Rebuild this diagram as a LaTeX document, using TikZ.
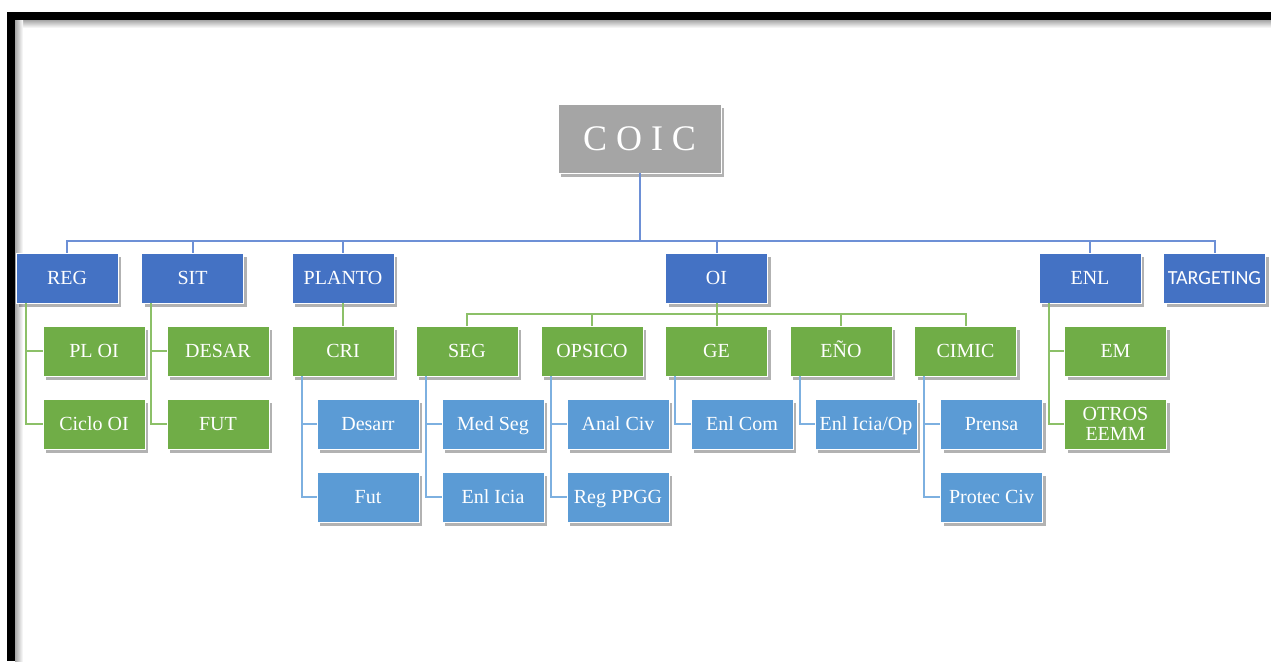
\documentclass[tikz,border=0pt]{standalone}
\usepackage{fontspec}
\setmainfont{Liberation Serif}
\newfontfamily\carlitofont{Carlito}
\usetikzlibrary{shadows}
\definecolor{dblue}{HTML}{4472C4}
\definecolor{lblue}{HTML}{5B9BD5}
\definecolor{mgreen}{HTML}{70AD47}
\definecolor{mgray}{HTML}{A5A5A5}
\definecolor{bl}{HTML}{6D90D6}
\definecolor{gl}{HTML}{8CC068}
\definecolor{ll}{HTML}{7DB0E0}
\tikzset{
  box/.style={rectangle, minimum width=102pt, minimum height=50pt, inner sep=0pt,
    draw=white, line width=0.8pt, text=white, font=\fontsize{20}{20}\selectfont,
    text height=13.2pt, text depth=0pt,
    drop shadow={shadow xshift=3pt, shadow yshift=-4pt, opacity=0.3, fill=black}},
  l1/.style={box, fill=dblue},
  l2/.style={box, fill=mgreen},
  l3/.style={box, fill=lblue},
  bline/.style={draw=bl, line width=2pt},
  gline/.style={draw=gl, line width=2pt},
  lline/.style={draw=ll, line width=2pt},
}
\begin{document}
\begin{tikzpicture}[x=1pt,y=-1pt]
\useasboundingbox (0,0) rectangle (1271,661);
% frame
\shade[top color=black!35, bottom color=white] (15,20) rectangle (1271,28);
\shade[left color=black!35, right color=white] (15,20) rectangle (23,661);
\fill[black] (7,12) rectangle (1271,20);
\fill[black] (7,12) rectangle (15,661);

% root
\node[box, fill=mgray, minimum width=163pt, minimum height=69pt, text height=24pt, text depth=0pt, font=\fontsize{36}{36}\selectfont] (COIC) at (639.5,138.5) {C O I C};

% level 1
\node[l1] (REG) at (67,278) {REG};
\node[l1] (SIT) at (192.5,278) {SIT};
\node[l1] (PLANTO) at (343,278) {PLANTO};
\node[l1] (OI) at (716.5,278) {OI};
\node[l1] (ENL) at (1090,278) {ENL};
\node[l1, font=\carlitofont\fontsize{20}{20}\selectfont] (TGT) at (1214.5,278) {TARGETING};

% level 2
\node[l2] (PLOI) at (94,351) {PL OI};
\node[l2] (DESAR) at (218,351) {DESAR};
\node[l2] (CRI) at (343,351) {CRI};
\node[l2] (SEG) at (467,351) {SEG};
\node[l2] (OPSICO) at (592,351) {OPSICO};
\node[l2] (GE) at (716.5,351) {GE};
\node[l2] (ENO) at (841,351) {EÑO};
\node[l2] (CIMIC) at (965.5,351) {CIMIC};
\node[l2] (EM) at (1115.5,351) {EM};

% level 3
\node[l2] (CICLO) at (94,424) {Ciclo OI};
\node[l2] (FUT) at (218,424) {FUT};
\node[l3] (DESARR) at (368,424) {Desarr};
\node[l3] (MEDSEG) at (493,424) {Med Seg};
\node[l3] (ANAL) at (618,424) {Anal Civ};
\node[l3] (ENLCOM) at (742,424) {Enl Com};
\node[l3] (ENLOP) at (866,424) {Enl Icia/Op};
\node[l3] (PRENSA) at (991.5,424) {Prensa};
\node[l2, align=center, text height=, text depth=, font=\fontsize{20}{20}\selectfont] (OTROS) at (1115.5,424) {OTROS\\EEMM};

% level 4
\node[l3] (FUT2) at (368,497) {Fut};
\node[l3] (ENLICIA) at (493,497) {Enl Icia};
\node[l3] (REGPP) at (618,497) {Reg PPGG};
\node[l3] (PROTEC) at (991.5,497) {Protec Civ};

% top bus
\coordinate (bus) at (639.5,241);
\draw[bline] (COIC.south) -- (bus);
\foreach \n in {REG,SIT,PLANTO,OI,ENL,TGT} \draw[bline] (bus) -| (\n.north);

% OI bus
\coordinate (oibus) at (716.5,314);
\draw[gline] (OI.south) -- (oibus);
\foreach \n in {SEG,OPSICO,GE,ENO,CIMIC} \draw[gline] (oibus) -| (\n.north);

% PLANTO -> CRI
\draw[gline] (PLANTO.south) -- (CRI.north);

% side connectors
\draw[gline] ([xshift=10pt]REG.south west) |- (PLOI.west);
\draw[gline] ([xshift=10pt]REG.south west) |- (CICLO.west);
\draw[gline] ([xshift=10pt]SIT.south west) |- (DESAR.west);
\draw[gline] ([xshift=10pt]SIT.south west) |- (FUT.west);
\draw[gline] ([xshift=10pt]ENL.south west) |- (EM.west);
\draw[gline] ([xshift=10pt]ENL.south west) |- (OTROS.west);
\draw[lline] ([xshift=10pt]CRI.south west) |- (DESARR.west);
\draw[lline] ([xshift=10pt]CRI.south west) |- (FUT2.west);
\draw[lline] ([xshift=10pt]SEG.south west) |- (MEDSEG.west);
\draw[lline] ([xshift=10pt]SEG.south west) |- (ENLICIA.west);
\draw[lline] ([xshift=10pt]OPSICO.south west) |- (ANAL.west);
\draw[lline] ([xshift=10pt]OPSICO.south west) |- (REGPP.west);
\draw[lline] ([xshift=10pt]GE.south west) |- (ENLCOM.west);
\draw[lline] ([xshift=10pt]ENO.south west) |- (ENLOP.west);
\draw[lline] ([xshift=10pt]CIMIC.south west) |- (PRENSA.west);
\draw[lline] ([xshift=10pt]CIMIC.south west) |- (PROTEC.west);
\end{tikzpicture}
\end{document}
